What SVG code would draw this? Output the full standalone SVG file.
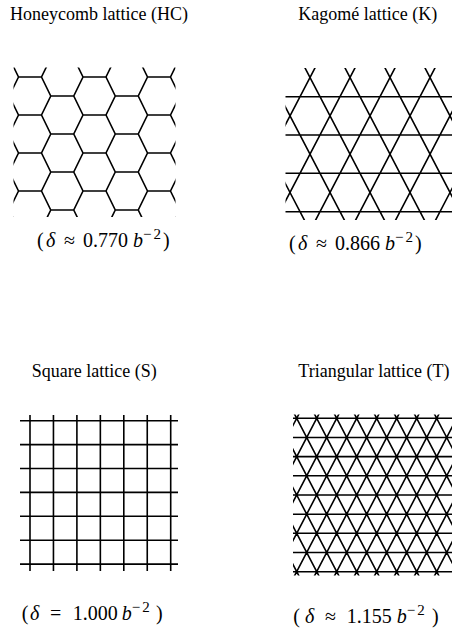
<svg xmlns="http://www.w3.org/2000/svg" width="452" height="631" viewBox="0 0 452 631">
<style>
.lat{fill:none;stroke:#000;stroke-width:1.6;stroke-linecap:butt}
text{font-family:"Liberation Serif","Times New Roman",serif;font-size:18px;fill:#000}
.f{font-size:20px}
.i{font-style:italic;font-family:"Liberation Serif","Times New Roman",serif}
.sup{font-size:15px;letter-spacing:2px}
</style>
<defs>
<clipPath id="cHC"><rect x="13.5" y="67.5" width="162" height="149.5"/></clipPath>
<clipPath id="cK"><rect x="285.5" y="68" width="166.5" height="152"/></clipPath>
<clipPath id="cT"><rect x="293" y="414.5" width="159" height="161"/></clipPath>
</defs>
<rect width="452" height="631" fill="#fff"/>

<g id="panel-hc">
<text x="10" y="19.5">Honeycomb lattice (HC)</text>
<path class="lat" clip-path="url(#cHC)" d="M9.25 58L18.5 77L9.25 96L18.5 115L9.25 134L18.5 153L9.25 172L18.5 191L9.25 210L18.5 229
M50.75 58L41.5 77L50.75 96L41.5 115L50.75 134L41.5 153L50.75 172L41.5 191L50.75 210L41.5 229
M73.75 58L83 77L73.75 96L83 115L73.75 134L83 153L73.75 172L83 191L73.75 210L83 229
M115.25 58L106 77L115.25 96L106 115L115.25 134L106 153L115.25 172L106 191L115.25 210L106 229
M138.25 58L147.5 77L138.25 96L147.5 115L138.25 134L147.5 153L138.25 172L147.5 191L138.25 210L147.5 229
M179.75 58L170.5 77L179.75 96L170.5 115L179.75 134L170.5 153L179.75 172L170.5 191L179.75 210L170.5 229
M18.5 77H41.5M83 77H106M147.5 77H170.5
M18.5 115H41.5M83 115H106M147.5 115H170.5
M18.5 153H41.5M83 153H106M147.5 153H170.5
M18.5 191H41.5M83 191H106M147.5 191H170.5
M50.75 96H73.75M115.25 96H138.25
M50.75 134H73.75M115.25 134H138.25
M50.75 172H73.75M115.25 172H138.25
M50.75 210H73.75M115.25 210H138.25"/>
<text class="f" y="247"><tspan x="37">(</tspan><tspan x="46" class="i">δ</tspan><tspan x="64">≈</tspan><tspan x="83">0.770</tspan><tspan x="133" class="i">b</tspan><tspan x="143" y="239" class="sup">−2</tspan><tspan x="163" y="247">)</tspan></text>
</g>

<g id="panel-k">
<text x="298.3" y="19.5">Kagomé lattice (K)</text>
<path class="lat" clip-path="url(#cK)" d="M320.17 58L230.42 230M360.17 58L270.42 230M400.17 58L310.42 230M440.17 58L350.42 230M480.17 58L390.42 230M520.17 58L430.42 230
M219.83 58L309.58 230M259.83 58L349.58 230M299.83 58L389.58 230M339.83 58L429.58 230M379.83 58L469.58 230M419.83 58L509.58 230
M284 96.7H452M284 135H452M284 173.3H452M284 211.7H452"/>
<text class="f" y="250"><tspan x="289">(</tspan><tspan x="298" class="i">δ</tspan><tspan x="316">≈</tspan><tspan x="335">0.866</tspan><tspan x="385" class="i">b</tspan><tspan x="395" y="242" class="sup">−2</tspan><tspan x="415" y="250">)</tspan></text>
</g>

<g id="panel-s">
<text x="31.7" y="377">Square lattice (S)</text>
<path class="lat" d="M30 415V571M53.45 415V571M76.9 415V571M100.35 415V571M123.8 415V571M147.25 415V571M170.7 415V571
M20 420.7H178M20 444.6H178M20 468.5H178M20 492.4H178M20 516.3H178M20 540.2H178M20 564.1H178"/>
<text class="f" y="620"><tspan x="21.7">(</tspan><tspan x="30" class="i">δ</tspan><tspan x="50">=</tspan><tspan x="72.7">1.000</tspan><tspan x="121.7" class="i">b</tspan><tspan x="131.7" y="612" class="sup">−2</tspan><tspan x="156" y="620">)</tspan></text>
</g>

<g id="panel-t">
<text x="298.3" y="377">Triangular lattice (T)</text>
<path class="lat" clip-path="url(#cT)" d="M301.03 410L212.34 580M321.03 410L232.34 580M341.03 410L252.34 580M361.03 410L272.34 580M381.03 410L292.34 580M401.03 410L312.34 580M421.03 410L332.34 580M441.03 410L352.34 580M461.03 410L372.34 580M481.03 410L392.34 580M501.03 410L412.34 580M521.03 410L432.34 580
M212.37 410L301.06 580M232.37 410L321.06 580M252.37 410L341.06 580M272.37 410L361.06 580M292.37 410L381.06 580M312.37 410L401.06 580M332.37 410L421.06 580M352.37 410L441.06 580M372.37 410L461.06 580M392.37 410L481.06 580M412.37 410L501.06 580M432.37 410L521.06 580
M293 418.3H452M293 437.5H452M293 456.6H452M293 475.8H452M293 495H452M293 514.2H452M293 533.3H452M293 552.5H452M293 571.7H452"/>
<text class="f" y="623.3"><tspan x="293.3">(</tspan><tspan x="305" class="i">δ</tspan><tspan x="325">≈</tspan><tspan x="346.7">1.155</tspan><tspan x="396.7" class="i">b</tspan><tspan x="406.7" y="615" class="sup">−2</tspan><tspan x="432" y="623.3">)</tspan></text>
</g>
</svg>
